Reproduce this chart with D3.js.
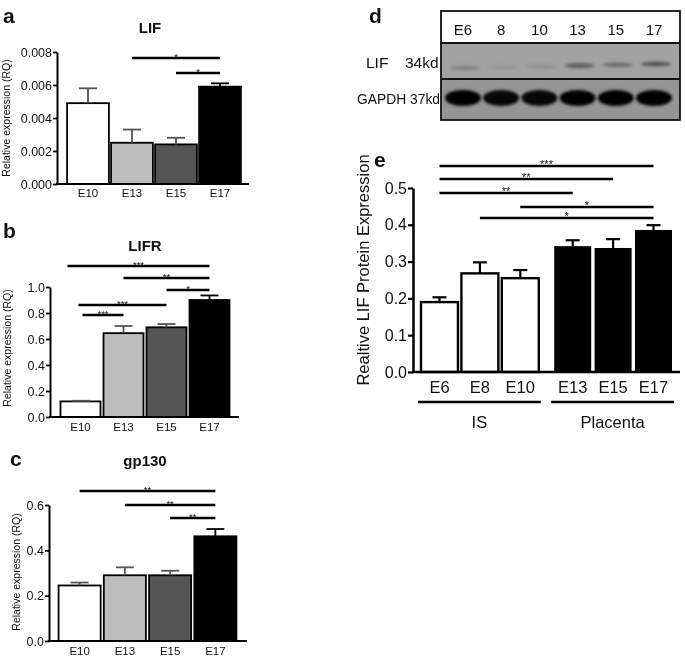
<!DOCTYPE html>
<html><head><meta charset="utf-8">
<script src="https://cdn.jsdelivr.net/npm/d3@7"></script>
<style>body{margin:0;background:#fff} svg{opacity:0.999} text{font-family:"Liberation Sans",Arial,sans-serif;fill:#111}</style>
</head><body><svg id="fig" width="685" height="660"></svg>
<script>
// ---------- data ----------
const qStages = ["E10", "E13", "E15", "E17"];
const qFills = ["#ffffff", "#bdbdbd", "#555555", "#000000"];

const lifMean = [0.0049, 0.0025, 0.0024, 0.0059];
const lifSem  = [0.0009, 0.0008, 0.0004, 0.0002];
const lifTicks = [0, 0.002, 0.004, 0.006, 0.008];
const lifSig = [[1, 3, "*"], [2, 3, "*"]];

const lifrMean = [0.12, 0.645, 0.69, 0.90];
const lifrSem  = [0.005, 0.055, 0.025, 0.035];
const lifrTicks = [0, 0.2, 0.4, 0.6, 0.8, 1.0];
const lifrSig = [[0, 3, "***"], [1, 3, "**"], [2, 3, "*"], [0, 2, "***"], [0, 1, "***"]];

const gpMean = [0.245, 0.29, 0.29, 0.462];
const gpSem  = [0.013, 0.035, 0.02, 0.032];
const gpTicks = [0, 0.2, 0.4, 0.6];
const gpSig = [[0, 3, "**"], [1, 3, "**"], [2, 3, "**"]];

const pStages = ["E6", "E8", "E10", "E13", "E15", "E17"];
const pGroups = ["IS", "IS", "IS", "Placenta", "Placenta", "Placenta"];
const groupNames = ["IS", "Placenta"];
const pMean = [0.19, 0.268, 0.255, 0.342, 0.337, 0.386];
const pSem  = [0.013, 0.030, 0.022, 0.016, 0.024, 0.013];
const pTicks = [0, 0.1, 0.2, 0.3, 0.4, 0.5];
const pSig = [[0, 5, "***"], [0, 4, "**"], [0, 3, "**"], [2, 5, "*"], [1, 5, "*"]];

const blotLanes = ["E6", "8", "10", "13", "15", "17"];
const blotLif = [0.25, 0.08, 0.12, 0.55, 0.4, 0.65];
const blotGapdh = [1, 0.95, 0.95, 1, 1, 1];

// ---------- drawing ----------
const svg = d3.select("#fig");
const defs = svg.append("defs");
defs.append("filter").attr("id", "blur").attr("x", "-50%").attr("y", "-50%").attr("width", "200%").attr("height", "200%")
  .append("feGaussianBlur").attr("stdDeviation", 1.6);
defs.append("filter").attr("id", "blur2").attr("x", "-50%").attr("y", "-100%").attr("width", "200%").attr("height", "300%")
  .append("feGaussianBlur").attr("stdDeviation", 1.8);

function letter(t, x, y) {
  svg.append("text").attr("x", x).attr("y", y).attr("font-size", 21).attr("font-weight", "bold").text(t);
}

function qpcr(c) {
  const g = svg.append("g");
  const y = d3.scaleLinear().domain([0, c.max]).range([c.y0, c.y1]);
  const x = d3.scaleBand().domain(qStages).range(c.xr).paddingInner(c.pi).paddingOuter(c.po);
  const bw = x.bandwidth();
  g.selectAll("rect.bar").data(qStages).join("rect")
    .attr("x", d => x(d)).attr("y", (d, i) => y(c.mean[i]))
    .attr("width", bw).attr("height", (d, i) => y(0) - y(c.mean[i]))
    .attr("fill", (d, i) => qFills[i]).attr("stroke", "#000").attr("stroke-width", 1.8);
  const eb = g.selectAll("g.eb").data(qStages).join("g");
  eb.append("line").attr("x1", d => x(d) + bw / 2).attr("x2", d => x(d) + bw / 2)
    .attr("y1", (d, i) => y(c.mean[i])).attr("y2", (d, i) => y(c.mean[i] + c.sem[i]))
    .attr("stroke", (d, i) => i === 3 ? "#000" : "#555").attr("stroke-width", 1.8);
  eb.append("line").attr("x1", d => x(d) + bw / 2 - c.cap).attr("x2", d => x(d) + bw / 2 + c.cap)
    .attr("y1", (d, i) => y(c.mean[i] + c.sem[i])).attr("y2", (d, i) => y(c.mean[i] + c.sem[i]))
    .attr("stroke", (d, i) => i === 3 ? "#000" : "#555").attr("stroke-width", 1.8);
  const ax = g.append("g").attr("transform", `translate(${c.ax},0)`)
    .call(d3.axisLeft(y).tickValues(c.ticks).tickFormat(d3.format(c.fmt)).tickSize(4).tickSizeOuter(0).tickPadding(1));
  ax.select(".domain").attr("stroke-width", 2);
  ax.selectAll(".tick line").attr("stroke-width", 1.8);
  ax.selectAll(".tick text").attr("font-size", 12.5).attr("font-family", "Liberation Sans, Arial").attr("fill", "#222");
  g.append("line").attr("x1", c.ax - 1).attr("x2", c.xEnd).attr("y1", y(0)).attr("y2", y(0))
    .attr("stroke", "#000").attr("stroke-width", 2);
  g.selectAll("text.xl").data(qStages).join("text")
    .attr("x", d => x(d) + bw / 2).attr("y", c.xly).attr("text-anchor", "middle")
    .attr("font-size", 11.5).attr("fill", "#222").text(d => d);
  g.append("text").attr("x", c.tx).attr("y", c.ty).attr("text-anchor", "middle")
    .attr("font-size", 15).attr("font-weight", "bold").text(c.title);
  g.append("text").attr("transform", `translate(${c.ylx},${c.yly}) rotate(-90)`)
    .attr("text-anchor", "middle").attr("font-size", 10.5).attr("fill", "#333").text("Relative expression (RQ)");
  c.sig.forEach((s, k) => {
    const x1 = x(qStages[s[0]]) + bw / 2 + (c.sigOff ? c.sigOff[k] : 0), x2 = x(qStages[s[1]]) + bw / 2;
    g.append("line").attr("x1", x1).attr("x2", x2).attr("y1", c.sigY[k]).attr("y2", c.sigY[k])
      .attr("stroke", "#000").attr("stroke-width", 2.6);
    g.append("text").attr("x", (x1 + x2) / 2).attr("y", c.sigY[k] + 2).attr("text-anchor", "middle")
      .attr("font-size", 9.5).attr("fill", "#222").text(s[2]);
  });
}

letter("a", 3, 23);
qpcr({mean: lifMean, sem: lifSem, ticks: lifTicks, sig: lifSig, max: 0.008, fmt: ".3f",
  y0: 184, y1: 52, xr: [66, 242], pi: 0.05, po: 0.025, ax: 57, xEnd: 249, cap: 9,
  xly: 197, tx: 150, ty: 33, title: "LIF", ylx: 10, yly: 118, sigY: [58, 73]});

letter("b", 3, 238);
qpcr({mean: lifrMean, sem: lifrSem, ticks: lifrTicks, sig: lifrSig, max: 1.0, fmt: ".1f",
  y0: 417, y1: 287, xr: [59, 231], pi: 0.07, po: 0.035, ax: 50, xEnd: 239, cap: 9,
  xly: 431, tx: 145, ty: 251, title: "LIFR", ylx: 11, yly: 348, sigY: [266, 278, 290, 305, 315],
  sigOff: [-13, 0, 0, -2, 2]});

letter("c", 10, 466);
qpcr({mean: gpMean, sem: gpSem, ticks: gpTicks, sig: gpSig, max: 0.6, fmt: ".1f",
  y0: 641, y1: 505, xr: [57, 238], pi: 0.07, po: 0.035, ax: 49, xEnd: 247, cap: 9,
  xly: 655, tx: 145, ty: 466, title: "gp130", ylx: 20, yly: 572, sigY: [491, 505, 518]});

// ---------- panel d: western blot ----------
letter("d", 369, 23);
{
  const g = svg.append("g");
  const bx0 = 441, bx1 = 680, by0 = 11, by1 = 43, by2 = 79, by3 = 120;
  const lx = d3.scalePoint().domain(blotLanes).range([463, 654]);
  g.append("rect").attr("x", bx0).attr("y", by0).attr("width", bx1 - bx0).attr("height", by1 - by0).attr("fill", "#fff");
  g.append("rect").attr("x", bx0).attr("y", by1).attr("width", bx1 - bx0).attr("height", by2 - by1).attr("fill", "#a2a2a2");
  g.append("rect").attr("x", bx0).attr("y", by2).attr("width", bx1 - bx0).attr("height", by3 - by2).attr("fill", "#959595");
  g.selectAll("ellipse.lif").data(blotLanes).join("ellipse")
    .attr("cx", d => lx(d) + 2).attr("cy", (d, i) => 68 - i * 0.8).attr("rx", 15).attr("ry", 2.6)
    .attr("fill", "#2a2a2a").attr("opacity", (d, i) => blotLif[i]).attr("filter", "url(#blur2)");
  g.selectAll("ellipse.gapdh").data(blotLanes).join("ellipse")
    .attr("cx", d => lx(d)).attr("cy", 98).attr("rx", 18).attr("ry", 8)
    .attr("fill", "#050505").attr("opacity", (d, i) => blotGapdh[i]).attr("filter", "url(#blur)");
  g.append("rect").attr("x", bx0).attr("y", by0).attr("width", bx1 - bx0).attr("height", by3 - by0)
    .attr("fill", "none").attr("stroke", "#111").attr("stroke-width", 1.8);
  [by1, by2].forEach(yy => g.append("line").attr("x1", bx0).attr("x2", bx1).attr("y1", yy).attr("y2", yy)
    .attr("stroke", "#111").attr("stroke-width", 1.8));
  g.selectAll("text.lane").data(blotLanes).join("text")
    .attr("x", d => lx(d)).attr("y", 35).attr("text-anchor", "middle").attr("font-size", 15).text(d => d);
  g.append("text").attr("x", 366).attr("y", 68).attr("font-size", 15.5).text("LIF");
  g.append("text").attr("x", 405).attr("y", 68).attr("font-size", 15.5).text("34kd");
  g.append("text").attr("x", 440).attr("y", 104).attr("text-anchor", "end").attr("font-size", 15.5)
    .attr("textLength", 83).attr("lengthAdjust", "spacingAndGlyphs").text("GAPDH 37kd");
}

// ---------- panel e ----------
letter("e", 374, 167);
{
  const g = svg.append("g");
  const y = d3.scaleLinear().domain([0, 0.5]).range([372, 188]);
  const x = d3.scaleBand().domain(pStages).range([419.3, 661.7]).paddingInner(0.085).paddingOuter(0.042);
  const gap = 12;
  const bw = x.bandwidth();
  const bx = (d, i) => x(d) + (pGroups[i] === "Placenta" ? gap : 0);
  g.selectAll("rect.bar").data(pStages).join("rect")
    .attr("x", (d, i) => bx(d, i)).attr("y", (d, i) => y(pMean[i]))
    .attr("width", bw).attr("height", (d, i) => y(0) - y(pMean[i]))
    .attr("fill", (d, i) => pGroups[i] === "IS" ? "#fff" : "#000")
    .attr("stroke", (d, i) => pGroups[i] === "IS" ? "#000" : "none").attr("stroke-width", 2.4);
  const eb = g.selectAll("g.eb").data(pStages).join("g");
  eb.append("line").attr("x1", (d, i) => bx(d, i) + bw / 2).attr("x2", (d, i) => bx(d, i) + bw / 2)
    .attr("y1", (d, i) => y(pMean[i])).attr("y2", (d, i) => y(pMean[i] + pSem[i])).attr("stroke", "#000").attr("stroke-width", 2.2);
  eb.append("line").attr("x1", (d, i) => bx(d, i) + bw / 2 - 7).attr("x2", (d, i) => bx(d, i) + bw / 2 + 7)
    .attr("y1", (d, i) => y(pMean[i] + pSem[i])).attr("y2", (d, i) => y(pMean[i] + pSem[i])).attr("stroke", "#000").attr("stroke-width", 2.2);
  const ax = g.append("g").attr("transform", "translate(413,0)")
    .call(d3.axisLeft(y).tickValues(pTicks).tickFormat(d3.format(".1f")).tickSize(5).tickSizeOuter(0).tickPadding(1));
  ax.select(".domain").attr("stroke-width", 2.5);
  ax.selectAll(".tick line").attr("stroke-width", 2.2);
  ax.selectAll(".tick text").attr("font-size", 16).attr("font-family", "Liberation Sans, Arial").attr("fill", "#111");
  g.append("line").attr("x1", 412).attr("x2", 680).attr("y1", y(0)).attr("y2", y(0)).attr("stroke", "#000").attr("stroke-width", 2.5);
  g.selectAll("text.xl").data(pStages).join("text")
    .attr("x", (d, i) => bx(d, i) + bw / 2).attr("y", 393).attr("text-anchor", "middle").attr("font-size", 16.5).text(d => d);
  groupNames.forEach(gn => {
    const idx = pStages.map((d, i) => i).filter(i => pGroups[i] === gn);
    const x1 = bx(pStages[idx[0]], idx[0]) - 3, x2 = bx(pStages[idx[idx.length - 1]], idx[idx.length - 1]) + bw + 2;
    g.append("line").attr("x1", x1).attr("x2", x2).attr("y1", 402).attr("y2", 402).attr("stroke", "#000").attr("stroke-width", 2.5);
    g.append("text").attr("x", (x1 + x2) / 2).attr("y", 428).attr("text-anchor", "middle").attr("font-size", 16.5).text(gn);
  });
  g.append("text").attr("transform", "translate(369,270) rotate(-90)").attr("text-anchor", "middle")
    .attr("font-size", 16.5).text("Realtive LIF Protein Expression");
  const sigY = [166, 179, 193, 207, 218];
  pSig.forEach((s, k) => {
    const x1 = bx(pStages[s[0]], s[0]) + bw / 2, x2 = bx(pStages[s[1]], s[1]) + bw / 2;
    g.append("line").attr("x1", x1).attr("x2", x2).attr("y1", sigY[k]).attr("y2", sigY[k]).attr("stroke", "#000").attr("stroke-width", 2.6);
    g.append("text").attr("x", (x1 + x2) / 2).attr("y", sigY[k] + 2).attr("text-anchor", "middle").attr("font-size", 11).text(s[2]);
  });
}
</script></body></html>
